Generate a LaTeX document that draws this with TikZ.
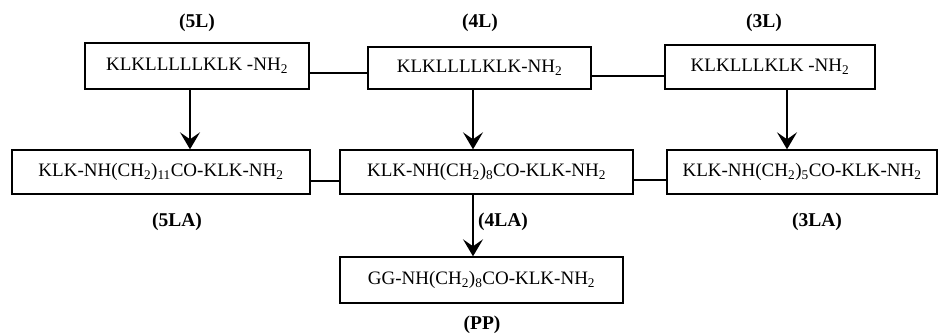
\documentclass[tikz,border=0pt]{standalone}
\usepackage{fontspec}
\setmainfont{Liberation Serif}
\usetikzlibrary{arrows.meta}
\begin{document}
\begin{tikzpicture}[x=1pt,y=-1pt,
  box/.style={draw,line width=1.4pt,inner sep=0pt,font=\fontsize{19}{22}\selectfont},
  lab/.style={font=\fontsize{19.5}{22}\selectfont\bfseries,inner sep=0pt},
  conn/.style={line width=1.4pt},
  arr/.style={line width=1.4pt,-{Stealth[length=17pt,width=20pt,inset=7pt]}}]
\useasboundingbox (0,0) rectangle (941,335);
% top row
\node[box,minimum width=224pt,minimum height=46pt] (L5) at (197,66) {KLKLLLLLKLK -NH\textsubscript{2}};
\node[box,minimum width=223pt,minimum height=42pt] (L4) at (479.5,68) {KLKLLLLKLK-NH\textsubscript{2}};
\node[box,minimum width=210pt,minimum height=44pt] (L3) at (770,67) {KLKLLLKLK -NH\textsubscript{2}};
% middle row
\node[box,minimum width=298pt,minimum height=44pt] (LA5) at (161,172) {KLK-NH(CH\textsubscript{2})\textsubscript{11}CO-KLK-NH\textsubscript{2}};
\node[box,minimum width=293pt,minimum height=44pt] (LA4) at (486.5,172) {KLK-NH(CH\textsubscript{2})\textsubscript{8}CO-KLK-NH\textsubscript{2}};
\node[box,minimum width=270pt,minimum height=44pt] (LA3) at (802,172) {KLK-NH(CH\textsubscript{2})\textsubscript{5}CO-KLK-NH\textsubscript{2}};
% bottom
\node[box,minimum width=283pt,minimum height=46pt] (PP) at (481.5,280) {GG-NH(CH\textsubscript{2})\textsubscript{8}CO-KLK-NH\textsubscript{2}};
% labels
\node[lab] (t5L) at (197,23) {(5L)};
\node[lab] (t4L) at (480,23) {(4L)};
\node[lab] (t3L) at (764,23) {(3L)};
\node[lab] (t5LA) at (177,222) {(5LA)};
\node[lab] (t4LA) at (503,222) {(4LA)};
\node[lab] (t3LA) at (817,222) {(3LA)};
\node[lab] (tPP) at (482,325) {(PP)};
% horizontal connectors
\draw[conn] ([yshift=-7pt]L5.east) -- ([yshift=-7pt]L5.east -| L4.west);
\draw[conn] ([yshift=-8pt]L4.east) -- ([yshift=-8pt]L4.east -| L3.west);
\draw[conn] ([yshift=-9pt]LA5.east) -- ([yshift=-9pt]LA5.east -| LA4.west);
\draw[conn] ([yshift=-8pt]LA4.east) -- ([yshift=-8pt]LA4.east -| LA3.west);
% arrows
\draw[arr] ([xshift=-7pt]L5.south) -- ([xshift=-7pt]L5.south |- LA5.north);
\draw[arr] ([xshift=-6.5pt]L4.south) -- ([xshift=-6.5pt]L4.south |- LA4.north);
\draw[arr] ([xshift=17pt]L3.south) -- ([xshift=17pt]L3.south |- LA3.north);
\draw[arr] ([xshift=-13.5pt]LA4.south) -- ([xshift=-13.5pt]LA4.south |- PP.north);
\end{tikzpicture}
\end{document}
